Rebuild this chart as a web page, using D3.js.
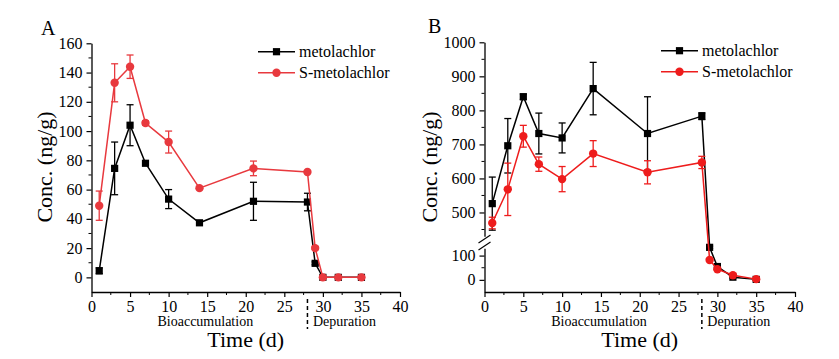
<!DOCTYPE html>
<html lang="en">
<head>
  <meta charset="UTF-8">
  <title>Metolachlor uptake</title>
  <script src="https://d3js.org/d3.v7.min.js"></script>
  <style>
    body { margin: 0; padding: 0; background: #fff; }
    svg { display: block; }
    svg text { font-family: "Liberation Serif", "Times New Roman", serif !important; fill: #000; }
  </style>
</head>
<body>
  <div id="chart"></div>
  <script>
    // sampling days and measured concentrations (ng/g)
    const days = [1, 3, 5, 7, 10, 14, 21, 28, 29, 30, 32, 35];
    const seriesNames = ["metolachlor", "S-metolachlor"];

    const metoA = [4.5, 74.5, 104, 78, 53.5, 37.3, 52, 51.5, 9.6, 0, 0, 0];
    const metoAErr = [2, 18, 14, 1.5, 6.5, 1, 13, 6, 1, 0.5, 0.5, 0.5];
    const smetoA = [49, 133, 144, 105.5, 92.5, 61, 74.5, 72, 20, 0, 0, 0];
    const smetoAErr = [10, 13, 8, 1.5, 7.5, 1, 5, 1, 1, 0.5, 0.5, 0.5];

    const metoB = [526, 696, 840, 732, 719, 864, 732, 783, 134, 55, 11, 2];
    const metoBErr = [78, 80, 8, 60, 44, 77, 108, 10, 5, 5, 3, 2];
    const smetoB = [469, 568, 724, 642, 598, 673, 618, 647, 82, 44, 19, 3];
    const smetoBErr = [17, 77, 32, 21, 37, 38, 34, 18, 5, 5, 3, 2];

    const xTicks = [0, 5, 10, 15, 20, 25, 30, 35, 40];
    const yTicksA = [0, 20, 40, 60, 80, 100, 120, 140, 160];
    const yTicksBUp = [500, 600, 700, 800, 900, 1000];
    const yTicksBLow = [0, 100];
    const phaseLabels = ["Bioaccumulation", "Depuration"];
    const phaseSplit = 28;

    const W = 839, H = 359;
    const FONT = '"Liberation Serif", "Times New Roman", serif';
    const svg = d3.select("#chart").append("svg")
      .attr("width", W).attr("height", H)
      .attr("font-family", FONT);
    svg.append("rect").attr("width", W).attr("height", H).attr("fill", "#fff");

    function styleAxis(g) {
      g.attr("font-family", FONT).attr("font-size", 16);
      g.selectAll("path.domain").attr("stroke", "#000").attr("stroke-width", 1.3);
      g.selectAll(".tick line").attr("stroke", "#000").attr("stroke-width", 1.2);
      g.selectAll(".tick text").attr("font-family", FONT)
        .attr("font-size", 16).attr("fill", "#000");
    }

    function minorTicks(g, scale, values, orient, len) {
      values.forEach(v => {
        const p = scale(v);
        if (orient === "left") {
          g.append("line").attr("x1", 0).attr("x2", -len).attr("y1", p).attr("y2", p)
            .attr("stroke", "#000").attr("stroke-width", 1);
        } else {
          g.append("line").attr("y1", 0).attr("y2", len).attr("x1", p).attr("x2", p)
            .attr("stroke", "#000").attr("stroke-width", 1);
        }
      });
    }

    function drawSeries(g, x, y, vals, errs, color, marker) {
      const pts = days.map((d, i) => ({ d, v: vals[i], e: errs[i] }));
      g.append("path").datum(pts)
        .attr("fill", "none").attr("stroke", color).attr("stroke-width", 1.5)
        .attr("d", d3.line().x(p => x(p.d)).y(p => y(p.v)));
      const eb = g.append("g").attr("stroke", color).attr("stroke-width", 1.3);
      pts.forEach(p => {
        const x0 = x(p.d), y1 = y(p.v + p.e), y2 = y(p.v - p.e);
        eb.append("line").attr("x1", x0).attr("x2", x0).attr("y1", y1).attr("y2", y2);
        eb.append("line").attr("x1", x0 - 3.5).attr("x2", x0 + 3.5).attr("y1", y1).attr("y2", y1);
        eb.append("line").attr("x1", x0 - 3.5).attr("x2", x0 + 3.5).attr("y1", y2).attr("y2", y2);
      });
      pts.forEach(p => drawMarker(g, x(p.d), y(p.v), color, marker));
    }

    function drawMarker(g, cx, cy, color, marker) {
      if (marker === "square") {
        g.append("rect").attr("x", cx - 3.6).attr("y", cy - 3.6)
          .attr("width", 7.2).attr("height", 7.2).attr("fill", color);
      } else {
        g.append("circle").attr("cx", cx).attr("cy", cy).attr("r", 4.2).attr("fill", color);
      }
    }

    function legend(g, lx, ly, colors) {
      seriesNames.forEach((name, i) => {
        const yy = ly + i * 21;
        g.append("line").attr("x1", lx).attr("x2", lx + 37).attr("y1", yy).attr("y2", yy)
          .attr("stroke", colors[i]).attr("stroke-width", 1.5);
        drawMarker(g, lx + 18.5, yy, colors[i], i === 0 ? "square" : "circle");
        g.append("text").attr("x", lx + 41).attr("y", yy + 5.5)
          .attr("font-size", 16).text(name);
      });
    }

    function xPart(x, yBase, cx) {
      const xa = svg.append("g").attr("transform", `translate(0,${yBase})`)
        .call(d3.axisBottom(x).tickValues(xTicks).tickSize(5).tickSizeOuter(0).tickPadding(4));
      styleAxis(xa);
      minorTicks(xa, x, d3.range(2.5, 40, 5), "bottom", 3);
      svg.append("line").attr("x1", x(phaseSplit)).attr("x2", x(phaseSplit))
        .attr("y1", 299).attr("y2", 329)
        .attr("stroke", "#000").attr("stroke-width", 1.5).attr("stroke-dasharray", "4,3");
      svg.append("text").attr("x", (x(1) + x(phaseSplit)) / 2 + 2).attr("y", 326)
        .attr("text-anchor", "middle").attr("font-size", 14).text(phaseLabels[0]);
      svg.append("text").attr("x", x(phaseSplit) + 5.5).attr("y", 326)
        .attr("font-size", 14).text(phaseLabels[1]);
      svg.append("text").attr("x", cx).attr("y", 347)
        .attr("text-anchor", "middle").attr("font-size", 22).text("Time (d)");
    }

    function yTitle(cx, cy) {
      svg.append("text").attr("transform", `translate(${cx},${cy}) rotate(-90)`)
        .attr("text-anchor", "middle").attr("font-size", 22).text("Conc. (ng/g)");
    }

    const fmt = d3.format("d");

    // ---------- Panel A ----------
    const xA = d3.scaleLinear().domain([0, 40]).range([91.5, 400]);
    const yA = d3.scaleLinear().domain([-10, 160]).range([292, 43.3]);
    const redA = "#e8393e";

    const yaA = svg.append("g").attr("transform", `translate(${xA(0)},0)`)
      .call(d3.axisLeft(yA).tickValues(yTicksA).tickFormat(fmt).tickSize(5).tickSizeOuter(0).tickPadding(4));
    styleAxis(yaA);
    minorTicks(yaA, yA, d3.range(10, 160, 20), "left", 3);
    xPart(xA, 292, (xA(0) + xA(40)) / 2);
    yTitle(52, 167);
    svg.append("text").attr("x", 41).attr("y", 35).attr("font-size", 20).text("A");

    const gA = svg.append("g");
    drawSeries(gA, xA, yA, metoA, metoAErr, "#000", "square");
    drawSeries(gA, xA, yA, smetoA, smetoAErr, redA, "circle");
    legend(svg.append("g"), 258, 51.7, ["#000", redA]);

    // ---------- Panel B (broken y axis) ----------
    const xB = d3.scaleLinear().domain([0, 40]).range([484.5, 795]);
    const yUp = d3.scaleLinear().domain([430, 1000]).range([236.3, 42.3]);
    const yLow = d3.scaleLinear().domain([-50, 130]).range([292, 248.3]);
    const yB = v => (v >= 300 ? yUp(v) : yLow(v));
    const redB = "#ee1c1c";

    const yaUp = svg.append("g").attr("transform", `translate(${xB(0)},0)`)
      .call(d3.axisLeft(yUp).tickValues(yTicksBUp).tickFormat(fmt).tickSize(5).tickSizeOuter(0).tickPadding(4));
    styleAxis(yaUp);
    minorTicks(yaUp, yUp, d3.range(450, 1000, 100), "left", 3);
    const yaLow = svg.append("g").attr("transform", `translate(${xB(0)},0)`)
      .call(d3.axisLeft(yLow).tickValues(yTicksBLow).tickFormat(fmt).tickSize(5).tickSizeOuter(0).tickPadding(4));
    styleAxis(yaLow);
    minorTicks(yaLow, yLow, [50], "left", 3);
    // break marks
    [239, 246].forEach(by => {
      svg.append("line").attr("x1", xB(0) - 6).attr("x2", xB(0) + 6)
        .attr("y1", by + 4).attr("y2", by - 4)
        .attr("stroke", "#000").attr("stroke-width", 1.2);
    });
    xPart(xB, 292, (xB(0) + xB(40)) / 2);
    yTitle(437, 167);
    svg.append("text").attr("x", 428).attr("y", 33).attr("font-size", 20).text("B");

    const gB = svg.append("g");
    drawSeries(gB, xB, yB, metoB, metoBErr, "#000", "square");
    drawSeries(gB, xB, yB, smetoB, smetoBErr, redB, "circle");
    legend(svg.append("g"), 661, 50.7, ["#000", redB]);
  </script>
</body>
</html>
